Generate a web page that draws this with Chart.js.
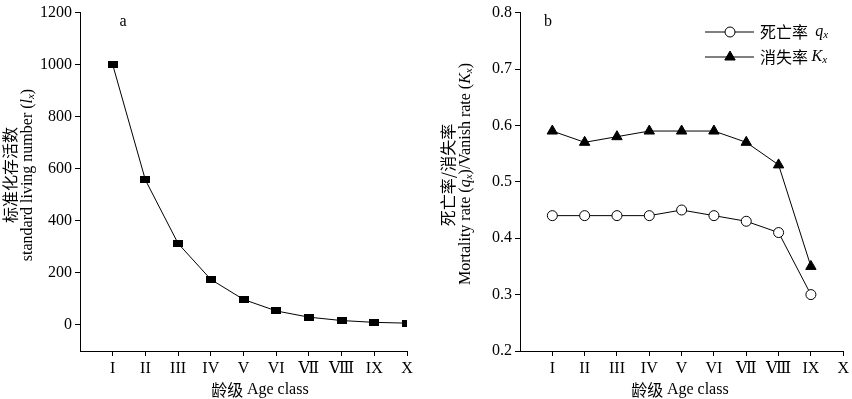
<!DOCTYPE html>
<html>
<head>
<meta charset="utf-8">
<script src="https://cdn.jsdelivr.net/npm/chart.js@4/dist/chart.umd.min.js"></script>
<style>
  html,body{margin:0;padding:0;background:#fff;}
  #wrap{position:relative;width:852px;height:399px;}
  canvas{position:absolute;top:0;}
</style>
</head>
<body>
<div id="wrap">
  <canvas id="cA" width="426" height="399" style="left:0"></canvas>
  <canvas id="cB" width="426" height="399" style="left:426px"></canvas>
</div>
<script>
// ---- data ----
const categories = ['I','II','III','IV','V','VI','Ⅶ','Ⅷ','IX','X'];
const lxValues = [1000, 557, 313, 175, 98, 54, 30, 17, 10, 7];
const qxValues = [0.44, 0.44, 0.44, 0.44, 0.45, 0.44, 0.43, 0.41, 0.30];
const kxValues = [0.59, 0.57, 0.58, 0.59, 0.59, 0.59, 0.57, 0.53, 0.35];
const lxTicks = [0, 200, 400, 600, 800, 1000, 1200];
const rateTicks = [0.2, 0.3, 0.4, 0.5, 0.6, 0.7, 0.8];

const SERIF = "'Liberation Serif', 'DejaVu Serif', 'Times New Roman', serif";
const CJK = "'Noto Sans CJK SC', sans-serif";

function toPoints(vals){ return vals.map((v,i)=>({x:i+1, y:v})); }

// rectangle marker image (wider than tall)
const rectImg = document.createElement('canvas');
rectImg.width = 10; rectImg.height = 7;
(function(){ const c = rectImg.getContext('2d'); c.fillStyle='#000'; c.fillRect(0,0,10,7); })();

function drawRuns(ctx, runs, x, y, opts){
  opts = opts || {};
  ctx.save();
  let total = 0;
  const widths = runs.map(r=>{ ctx.font = r.font; const w = ctx.measureText(r.text).width; total += w; return w; });
  ctx.translate(x, y);
  if (opts.rotate) ctx.rotate(-Math.PI/2);
  let cx = opts.align === 'left' ? 0 : -total/2;
  ctx.fillStyle = '#000';
  ctx.textBaseline = 'middle';
  ctx.textAlign = 'left';
  runs.forEach((r,i)=>{ ctx.font = r.font; ctx.fillText(r.text, cx, r.dy||0); cx += widths[i]; });
  ctx.restore();
}

const fSerif = "16px " + SERIF;
const fIt = "italic 16px " + SERIF;
const fSub = "italic 11px " + SERIF;
const fCjk = "16px " + CJK;

function xScaleOpts(){
  return {
    type: 'linear', min: 0, max: 10,
    afterBuildTicks: s => { s.ticks = categories.map((c,i)=>({value:i+1})); },
    afterFit: s => { s.height = 48; },
    ticks: { color:'#000', font:{family:SERIF, size:16}, padding:3, maxRotation:0, autoSkip:false,
             callback: v => categories[v-1] || '' },
    grid: { display:true, drawOnChartArea:false, drawTicks:true, tickLength:5, color:'#000', lineWidth:1 },
    border: { display:true, color:'#000', width:1 }
  };
}

const titlesA = {
  id:'titlesA',
  afterDraw(chart){
    const ctx = chart.ctx;
    drawRuns(ctx, [{text:'标准化存活数', font:fCjk}], 10, 175, {rotate:true});
    drawRuns(ctx, [{text:'standard living number (', font:fSerif},{text:'l', font:fIt},{text:'x', font:fSub, dy:3},{text:')', font:fSerif}], 28, 175, {rotate:true});
    drawRuns(ctx, [{text:'龄级 ', font:fCjk},{text:'Age class', font:fSerif}], 260, 390);
    drawRuns(ctx, [{text:'a', font:fSerif}], 123, 22);
  }
};

const titlesB = {
  id:'titlesB',
  afterDraw(chart){
    const ctx = chart.ctx;
    drawRuns(ctx, [{text:'死亡率/消失率', font:fCjk}], 22, 175, {rotate:true});
    drawRuns(ctx, [{text:'Mortality rate (', font:fSerif},{text:'q', font:fIt},{text:'x', font:fSub, dy:3},{text:')/Vanish rate (', font:fSerif},{text:'K', font:fIt},{text:'x', font:fSub, dy:3},{text:')', font:fSerif}], 40, 174, {rotate:true});
    drawRuns(ctx, [{text:'龄级 ', font:fCjk},{text:'Age class', font:fSerif}], 254, 390);
    drawRuns(ctx, [{text:'b', font:fSerif}], 122, 22);
    // legend
    const rows = [
      {y:32, ds:0, runs:[{text:'死亡率  ', font:fCjk},{text:'q', font:fIt},{text:'x', font:fSub, dy:3}]},
      {y:57, ds:1, runs:[{text:'消失率 ', font:fCjk},{text:'K', font:fIt},{text:'x', font:fSub, dy:3}]}
    ];
    rows.forEach(r=>{
      const ds = chart.data.datasets[r.ds];
      ctx.save();
      ctx.strokeStyle = '#000'; ctx.lineWidth = 1;
      ctx.beginPath(); ctx.moveTo(279, r.y); ctx.lineTo(328, r.y); ctx.stroke();
      ctx.fillStyle = ds.pointBackgroundColor; ctx.strokeStyle = '#000';
      Chart.helpers.drawPoint(ctx, {pointStyle: ds.pointStyle, radius: ds.pointRadius, borderWidth: 1, rotation:0}, 304, r.y);
      ctx.restore();
      drawRuns(ctx, r.runs, 334, r.y, {align:'left'});
    });
  }
};

new Chart(document.getElementById('cA'), {
  type: 'line',
  data: { datasets: [{
    data: toPoints(lxValues),
    borderColor:'#000', borderWidth:1, tension:0,
    pointStyle: rectImg, pointRadius:5, pointHoverRadius:5,
    pointBackgroundColor:'#000', pointBorderColor:'#000'
  }]},
  options: {
    responsive:false, animation:false, devicePixelRatio:1,
    layout: { autoPadding:false, padding:{left:0, right:19, top:7, bottom:0} },
    plugins: { legend:{display:false}, tooltip:{enabled:false} },
    scales: {
      x: xScaleOpts(),
      y: {
        type:'linear', min:-100, max:1200,
        afterBuildTicks: s => { s.ticks = lxTicks.map(v=>({value:v})); },
        afterFit: s => { s.width = 80; },
        ticks: { color:'#000', font:{family:SERIF, size:16}, padding:3, callback: v => String(v) },
        grid: { display:true, drawOnChartArea:false, drawTicks:true, tickLength:5, color:'#000', lineWidth:1 },
        border: { display:true, color:'#000', width:1 }
      }
    }
  },
  plugins:[titlesA]
});

new Chart(document.getElementById('cB'), {
  type: 'line',
  data: { datasets: [
    { data: toPoints(qxValues), borderColor:'#000', borderWidth:1, tension:0,
      pointStyle:'circle', pointRadius:5, pointHoverRadius:5, pointBorderWidth:1,
      pointBackgroundColor:'#fff', pointBorderColor:'#000' },
    { data: toPoints(kxValues), borderColor:'#000', borderWidth:1, tension:0,
      pointStyle:'triangle', pointRadius:6, pointHoverRadius:6, pointBorderWidth:1,
      pointBackgroundColor:'#000', pointBorderColor:'#000' }
  ]},
  options: {
    responsive:false, animation:false, devicePixelRatio:1,
    layout: { autoPadding:false, padding:{left:0, right:5, top:7, bottom:0} },
    plugins: { legend:{display:false}, tooltip:{enabled:false} },
    scales: {
      x: xScaleOpts(),
      y: {
        type:'linear', min:0.2, max:0.8,
        afterBuildTicks: s => { s.ticks = rateTicks.map(v=>({value:v})); },
        afterFit: s => { s.width = 94; },
        ticks: { color:'#000', font:{family:SERIF, size:16}, padding:3, callback: v => Number(v).toFixed(1) },
        grid: { display:true, drawOnChartArea:false, drawTicks:true, tickLength:5, color:'#000', lineWidth:1 },
        border: { display:true, color:'#000', width:1 }
      }
    }
  },
  plugins:[titlesB]
});
</script>
</body>
</html>
